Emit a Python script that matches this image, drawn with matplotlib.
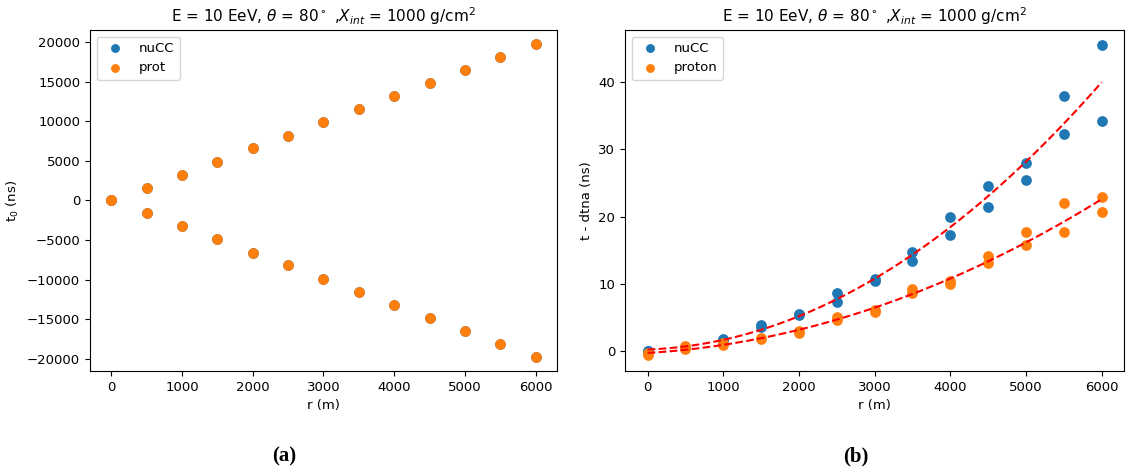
import numpy as np
import matplotlib
matplotlib.use('Agg')
import matplotlib.pyplot as plt

# left panel: t0 vs r
r_left = [0, 500, 1000, 1500, 2000, 2500, 3000, 3500, 4000, 4500, 5000, 5500, 6000]
t0_up = [0, 1600, 3250, 4880, 6560, 8180, 9870, 11480, 13160, 14790, 16450, 18060, 19720]
t0_down = [0, -1600, -3250, -4880, -6560, -8180, -9870, -11480, -13160, -14790, -16450, -18060, -19720]
r_t0 = r_left + r_left
nucc_t0 = t0_up + t0_down
prot_t0 = t0_up + t0_down

# right panel: t - dtna vs r (two stations per radius)
r_right = [0, 0, 500, 500, 1000, 1000, 1500, 1500, 2000, 2000, 2500, 2500,
           3000, 3000, 3500, 3500, 4000, 4000, 4500, 4500, 5000, 5000,
           5500, 5500, 6000, 6000]
nucc_dt = [0.1, 0.0, 0.7, 0.5, 1.8, 1.6, 3.9, 3.7, 5.4, 5.5, 8.7, 7.3,
           10.7, 10.4, 14.7, 13.4, 20.0, 17.3, 24.5, 21.5, 27.9, 25.5,
           37.9, 32.3, 45.5, 34.2]
prot_dt = [-0.5, -0.2, 0.8, 0.4, 0.9, 1.2, 1.8, 2.0, 3.0, 2.7, 5.1, 4.7,
           5.9, 6.1, 9.2, 8.7, 10.4, 10.0, 14.1, 13.1, 17.7, 15.8,
           22.0, 17.7, 22.9, 20.7]

title = r'E = 10 EeV, $\theta$ = 80$^\circ$ ,$X_{int}$ = 1000 g/cm$^2$'

plt.rcParams['font.size'] = 9.5

fig = plt.figure(figsize=(11.26, 4.72), dpi=100)
ax1 = fig.add_axes([0.0799, 0.214, 0.4147, 0.7225])
ax2 = fig.add_axes([0.555, 0.214, 0.4435, 0.7225])

ax1.scatter(r_t0, nucc_t0, s=45, label='nuCC')
ax1.scatter(r_t0, prot_t0, s=45, label='prot')
ax1.set_xlabel('r (m)')
ax1.set_ylabel('t$_0$ (ns)')
ax1.set_title(title, fontsize=11)
ax1.set_ylim(-21500, 21500)
ax1.legend(loc='upper left', markerscale=0.8)

ax2.scatter(r_right, nucc_dt, s=45, label='nuCC')
ax2.scatter(r_right, prot_dt, s=45, label='proton')
rr = np.linspace(0, 6000, 200)
for vals in [nucc_dt, prot_dt]:
    p = np.polyfit(r_right, vals, 2)
    ax2.plot(rr, np.polyval(p, rr), 'r--')
ax2.set_xlabel('r (m)')
ax2.set_ylabel('t - dtna (ns)')
ax2.set_title(title, fontsize=11)
ax2.set_ylim(-2.9, 47.7)
ax2.legend(loc='upper left', markerscale=0.8)

fig.text(0.252, 0.022, '(a)', fontsize=15, fontweight='bold', family='Liberation Serif', ha='center')
fig.text(0.76, 0.022, '(b)', fontsize=15, fontweight='bold', family='Liberation Serif', ha='center')

fig.savefig('out.png', dpi=100)
